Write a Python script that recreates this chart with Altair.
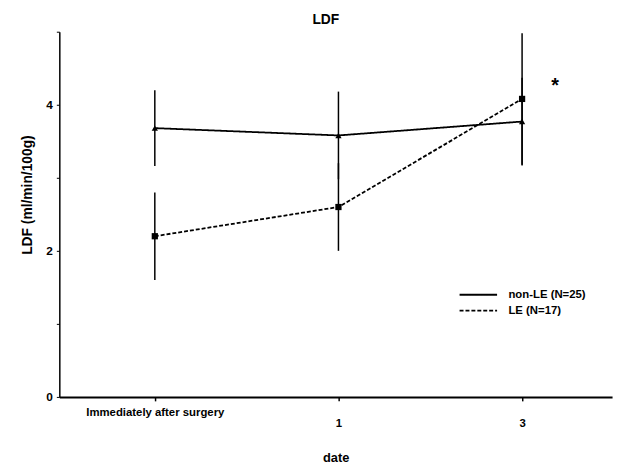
import altair as alt
import pandas as pd

# ---- data ----
x_labels = ["Immediately after surgery", "1", "3"]
x_pos = [0, 1, 2]
series_names = ["non-LE (N=25)", "LE (N=17)"]
series_shapes = ["triangle-up", "square"]
nonle_mean = [3.68, 3.58, 3.77]
nonle_err = [0.52, 0.60, 0.60]
le_mean = [2.20, 2.60, 4.08]
le_err = [0.60, 0.60, 0.90]
star_x = [2.18]
star_y = [4.26]
star_text = ["*"]

rows = []
for name, means, errs in [(series_names[0], nonle_mean, nonle_err),
                          (series_names[1], le_mean, le_err)]:
    for xp, m, e in zip(x_pos, means, errs):
        rows.append({"series": name, "x": xp, "mean": m, "lo": m - e, "hi": m + e})
df = pd.DataFrame(rows)
star_df = pd.DataFrame({"x": star_x, "y": star_y, "t": star_text})

FONT = "Liberation Sans"
label_expr = "[" + ",".join("'%s'" % s for s in x_labels) + "][round(datum.value)]"

xscale = alt.Scale(domain=[-0.52, 2.49], nice=False, zero=False)
yscale = alt.Scale(domain=[0, 5], nice=False)

x_enc = alt.X("x:Q", scale=xscale,
              axis=alt.Axis(values=x_pos, labelExpr=label_expr, title="date",
                            grid=False, tickSize=4, domainWidth=2, tickWidth=1.5,
                            labelFont=FONT, labelFontWeight="bold", labelFontSize=11.5,
                            labelPadding={"condition": {"test": "datum.value == 0", "value": 6},
                                          "value": 17},
                            titleFont=FONT, titleFontWeight="bold", titleFontSize=13,
                            titlePadding=23, labelFlush=False))
y_enc = alt.Y("mean:Q", scale=yscale,
              axis=alt.Axis(values=[0, 1, 2, 3, 4, 5], format="d",
                            labelExpr="datum.value % 2 == 0 && datum.value < 5 ? datum.label : ''",
                            title="LDF (ml/min/100g)", grid=False, tickSize=3,
                            domainWidth=1.5, labelFont=FONT, labelFontWeight="bold",
                            labelFontSize=12, labelPadding=4,
                            titleFont=FONT, titleFontWeight="bold", titleFontSize=14,
                            titlePadding=12, titleY=165))

dash_scale = alt.Scale(domain=series_names, range=[[1, 0], [4, 2]])

err = alt.Chart(df).mark_rule(color="black", strokeWidth=1.5).encode(
    x=x_enc, y=alt.Y("lo:Q", scale=yscale), y2="hi:Q")

lines = alt.Chart(df).mark_line(color="black", strokeWidth=1.8).encode(
    x=x_enc, y=y_enc,
    strokeDash=alt.StrokeDash("series:N", scale=dash_scale, sort=series_names,
                              legend=alt.Legend(title=None, orient="none",
                                                legendX=414, legendY=256,
                                                symbolType="M-2,0H2", symbolSize=361,
                                                symbolStrokeWidth=1.8,
                                                symbolStrokeColor="black",
                                                symbolFillColor="transparent",
                                                labelFont=FONT, labelFontWeight="bold",
                                                labelFontSize=11.5, labelOffset=20,
                                                rowPadding=-2)))

pt_layers = []
for name, shp in zip(series_names, series_shapes):
    pt_layers.append(
        alt.Chart(df).transform_filter(alt.datum.series == name)
        .mark_point(filled=True, color="black", size=40, opacity=1, shape=shp)
        .encode(x=x_enc, y=y_enc))

star = alt.Chart(star_df).mark_text(font=FONT, fontSize=20, fontWeight="bold",
                                    color="black", baseline="middle").encode(
    x=alt.X("x:Q", scale=xscale), y=alt.Y("y:Q", scale=yscale), text="t:N")

chart = alt.layer(err, lines, *pt_layers, star).properties(
    width=560, height=370,
    title=alt.TitleParams("LDF", font=FONT, fontWeight="bold", fontSize=14,
                          anchor="middle", dx=-10, offset=4),
    autosize=alt.AutoSizeParams(type="none"),
    padding={"left": 52, "top": 21, "right": 5, "bottom": 70},
).configure_view(stroke=None).configure_axis(domainColor="black", tickColor="black",
                                              labelColor="black", titleColor="black")

chart.save("out.html", embed_options={"renderer": "svg", "actions": False})
